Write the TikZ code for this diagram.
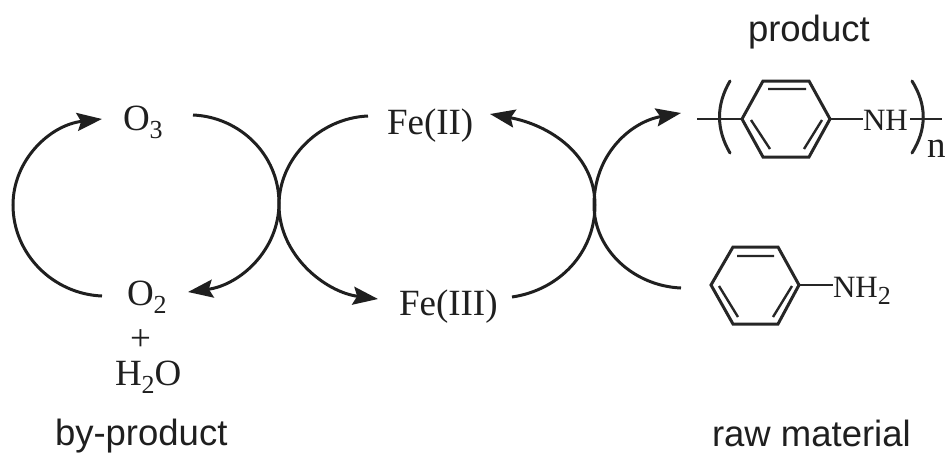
\documentclass[tikz,border=0pt]{standalone}
\usepackage{fontspec}
\usepackage{graphicx}
\setmainfont{Liberation Serif}
\newfontfamily\labelfont{Liberation Sans}
\usetikzlibrary{arrows.meta}
\newcommand{\chemsub}[1]{\raisebox{-.24em}{\fontsize{26}{26}\selectfont #1}}
\tikzset{
  chem/.style={anchor=base west,inner sep=0pt,outer sep=0pt,font=\fontsize{37}{40}\selectfont,text=black!88},
  small chem/.style={chem,font=\fontsize{31}{34}\selectfont},
  tag/.style={anchor=base west,inner sep=0pt,outer sep=0pt,font=\labelfont\fontsize{36.5}{40}\selectfont,text=black!88},
  cycle/.style={line width=3pt,draw=black!88},
  cycletip/.style={cycle,-{Stealth[length=25pt,width=18pt,inset=4pt]}},
  bond/.style={line width=3pt,draw=black!85,line join=miter},
  thin bond/.style={line width=2.4pt,draw=black!85},
}
\begin{document}
\begin{tikzpicture}[x=1pt,y=-1pt]
\useasboundingbox (0,0) rectangle (946,453);
% labels
\node[chem] (o3) at (123,130) {O\chemsub{3}};
\node[chem] (o2) at (127,305) {O\chemsub{2}};
\node[chem] (plus) at (130,350) {+};
\node[chem] (h2o) at (115,385) {H\chemsub{2}O};
\node[chem] (fe2) at (387,134) {Fe(II)};
\node[chem] (fe3) at (399,315) {Fe(III)};
\node[small chem] (nh) at (863,130) {NH};
\node[chem] (n) at (927,157) {n};
\node[small chem] (nh2) at (833,297) {NH\chemsub{2}};
\node[tag] (prod) at (748,41) {product};
\node[tag] (byprod) at (55,445) {by-product};
\node[tag] (raw) at (712,446) {raw material};
% cycle coordinates
\coordinate (a1) at (102,296); \coordinate (am) at (13,205); \coordinate (a2) at (102,119);
\coordinate (b1) at (193,115); \coordinate (bm) at (279,203); \coordinate (b2) at (188,292);
\coordinate (c1) at (368,116); \coordinate (cm) at (279,205); \coordinate (c2) at (378,299);
\coordinate (d1) at (512,297); \coordinate (dm) at (595,205); \coordinate (d2) at (490,114);
\coordinate (e1) at (681,288); \coordinate (em) at (594,205); \coordinate (e2) at (681,113);
\draw[cycletip] (a1) .. controls (53,294) and (13,254) .. (am) .. controls (13,160) and (50,125) .. (a2);
\draw[cycletip] (b1) .. controls (240,117) and (279,155) .. (bm) .. controls (279,250) and (240,285) .. (b2);
\draw[cycletip] (c1) .. controls (320,118) and (279,158) .. (cm) .. controls (279,255) and (325,292) .. (c2);
\draw[cycletip] (d1) .. controls (560,290) and (595,252) .. (dm) .. controls (595,155) and (550,125) .. (d2);
\draw[cycletip] (e1) .. controls (634,286) and (594,250) .. (em) .. controls (594,155) and (630,122) .. (e2);
% polymer ring
\coordinate (p1) at (742,119); \coordinate (p2) at (763,81); \coordinate (p3) at (809,81);
\coordinate (p4) at (830,119); \coordinate (p5) at (809,157); \coordinate (p6) at (763,157);
\draw[bond] (p1) -- (p2) -- (p3) -- (p4) -- (p5) -- (p6) -- cycle;
\coordinate (pi1) at (768,89); \coordinate (pi2) at (806,89);
\coordinate (pi3) at (751,120); \coordinate (pi4) at (770,149);
\coordinate (pi5) at (822,120); \coordinate (pi6) at (804,149);
\draw[thin bond] (pi1) -- (pi2) (pi3) -- (pi4) (pi5) -- (pi6);
\coordinate (pl) at (697,119); \coordinate (pr) at (942,119); \coordinate (prs) at (910,119);
\draw[thin bond] (pl) -- (p1) (p4) -- (nh.west |- p4) (prs) -- (pr);
\coordinate (l1) at (730,81); \coordinate (l2) at (730,153);
\coordinate (r1) at (912,81); \coordinate (r2) at (912,153);
\draw[bond,line cap=round] (l1) .. controls (716,105) and (716,129) .. (l2);
\draw[bond,line cap=round] (r1) .. controls (927,105) and (927,129) .. (r2);
% aniline ring
\coordinate (q1) at (711,285); \coordinate (q2) at (733,247); \coordinate (q3) at (778,247);
\coordinate (q4) at (799,285); \coordinate (q5) at (778,324); \coordinate (q6) at (733,324);
\draw[bond] (q1) -- (q2) -- (q3) -- (q4) -- (q5) -- (q6) -- cycle;
\coordinate (qi1) at (737,256); \coordinate (qi2) at (774,256);
\coordinate (qi3) at (719,286); \coordinate (qi4) at (738,317);
\coordinate (qi5) at (792,286); \coordinate (qi6) at (773,317);
\draw[thin bond] (qi1) -- (qi2) (qi3) -- (qi4) (qi5) -- (qi6);
\draw[thin bond] (q4) -- (nh2.west |- q4);
\end{tikzpicture}
\end{document}
